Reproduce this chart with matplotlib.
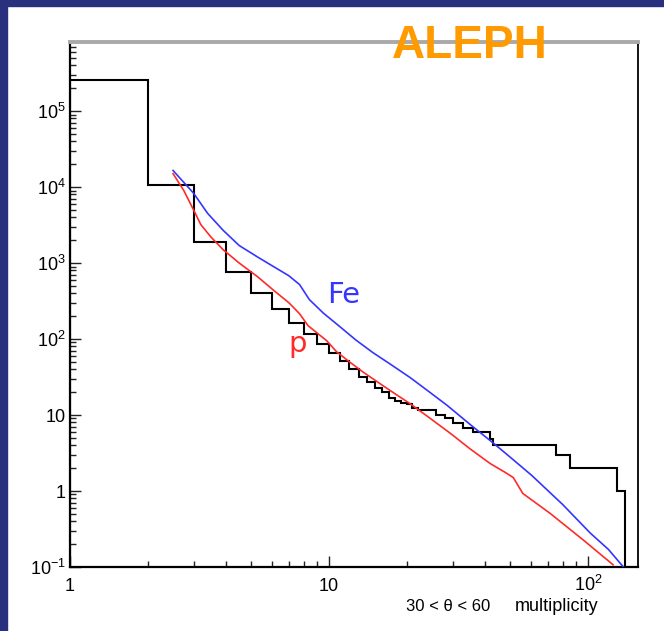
import numpy as np
import matplotlib.pyplot as plt
from matplotlib.patches import Rectangle
from matplotlib.ticker import LogLocator, NullFormatter

#Distribución integral de multiplicidad (histograma negro)
edges = [1, 2, 3, 4, 5, 6, 7, 8, 9, 10, 11, 12, 13, 14, 15, 16, 17, 18, 19, 20, 21, 22,
         26, 28, 30, 33, 36, 42, 43, 75, 85, 130, 139]
counts = [2.6e5, 1.05e4, 1.9e3, 760, 400, 245, 162, 116, 87, 66, 51, 40, 32, 27, 23, 20,
          17, 15.5, 14.5, 13.8, 12.3, 11.6, 10, 9.0, 7.8, 6.7, 6.0, 4.9, 4.0, 3.0, 2.0, 1.0]

#Curva de simulación Fe (azul)
fe_x = [2.5, 3.0, 3.4, 3.9, 4.5, 5.3, 6.1, 7.0, 7.7, 8.4, 9.5, 11, 12.7, 14.8, 17.2,
        20.6, 24, 28.5, 35.6, 43, 50, 60.7, 80, 102, 120, 137]
fe_y = [1.65e4, 8.3e3, 4.5e3, 2.7e3, 1.7e3, 1.2e3, 900, 680, 520, 330, 220, 146, 97, 66, 47,
        31, 21, 13.5, 7.2, 4.3, 2.8, 1.6, 0.66, 0.28, 0.17, 0.1]

#Curva de simulación p (roja)
p_x = [2.5, 2.75, 3.0, 3.2, 3.5, 3.9, 4.5, 5.3, 6.1, 7.0, 7.7, 8.3, 9.0, 9.8, 10.7, 12.0,
       13.5, 15.7, 18, 20.5, 23.8, 29.3, 35, 41.9, 48, 51.5, 56, 71.3, 96, 125]
p_y = [1.5e4, 9e3, 5e3, 3.2e3, 2.2e3, 1.5e3, 1.0e3, 660, 440, 300, 215, 150, 120, 95, 68, 50,
       37, 26, 19, 14.2, 9.8, 5.8, 3.6, 2.3, 1.75, 1.5, 0.93, 0.51, 0.226, 0.107]

#Etiquetas de los ejes
xtick_vals = [1, 10, 100]
xtick_labels = ['1', '10', r'$10^{2}$']
ytick_vals = [0.1, 1, 10, 100, 1e3, 1e4, 1e5]
ytick_labels = [r'$10^{-1}$', '1', '10', r'$10^{2}$', r'$10^{3}$', r'$10^{4}$', r'$10^{5}$']

plt.rcParams.update({
    'font.family': 'Liberation Sans',
    'mathtext.fontset': 'custom',
    'mathtext.rm': 'Liberation Sans',
    'mathtext.it': 'Liberation Sans:italic',
    'mathtext.bf': 'Liberation Sans:bold',
})

navy = '#29307e'
blue = '#3535ff'
red = '#ff2a2a'

W, H = 664, 631
fig = plt.figure(figsize=(W / 100, H / 100), dpi=100)
fig.patch.set_facecolor('white')

#Marco azul de la diapositiva
fig.add_artist(Rectangle((0, 0), 7 / W, 1, transform=fig.transFigure,
                         color=navy, zorder=-5))
fig.add_artist(Rectangle((0, 1 - 6 / H), 1, 6 / H, transform=fig.transFigure,
                         color=navy, zorder=-5))

ax = fig.add_axes([70 / W, 1 - 567 / H, (638 - 70) / W, (567 - 42) / H])
ax.set_xscale('log')
ax.set_yscale('log')
ax.set_xlim(1, 156)
ax.set_ylim(0.1, 8.1e5)

ax.stairs(counts, edges, baseline=1e-3, color='black', lw=1.5, zorder=2)
ax.plot(fe_x, fe_y, color=blue, lw=1.2, zorder=3)
ax.plot(p_x, p_y, color=red, lw=1.2, zorder=3)

ax.text(9.82, 295, 'Fe', color=blue, fontsize=21, family='DejaVu Sans')
ax.text(6.95, 68, 'p', color=red, fontsize=21, family='DejaVu Sans')

#Ejes estilo ROOT
ax.set_xticks(xtick_vals, labels=xtick_labels)
ax.set_yticks(ytick_vals, labels=ytick_labels)
ax.xaxis.set_minor_locator(LogLocator(base=10, subs=np.arange(2, 10), numticks=50))
ax.yaxis.set_minor_locator(LogLocator(base=10, subs=np.arange(2, 10), numticks=50))
ax.xaxis.set_minor_formatter(NullFormatter())
ax.yaxis.set_minor_formatter(NullFormatter())
ax.tick_params(which='both', direction='in', top=False, right=False, width=1, color='#222222')
ax.tick_params(which='major', length=8, labelsize=13)
ax.tick_params(which='minor', length=4.5)
ax.tick_params(axis='y', pad=3)
ax.tick_params(axis='x', pad=17)
for lbl in ax.get_xticklabels():
    lbl.set_verticalalignment('baseline')

for side in ['left', 'bottom']:
    ax.spines[side].set_linewidth(1.6)
ax.spines['right'].set_linewidth(1.3)
ax.spines['top'].set_color('#a9a9a9')
ax.spines['top'].set_linewidth(2.8)

fig.text(392 / W, 1 - 58 / H, 'ALEPH', fontsize=33, weight='bold', color='#ff9a00',
         va='baseline')
fig.text(406 / W, 1 - 611 / H, '30 < θ < 60', fontsize=12, va='baseline')
fig.text(598 / W, 1 - 611 / H, 'multiplicity', fontsize=13, ha='right', va='baseline')

fig.savefig('out.png', dpi=100)
